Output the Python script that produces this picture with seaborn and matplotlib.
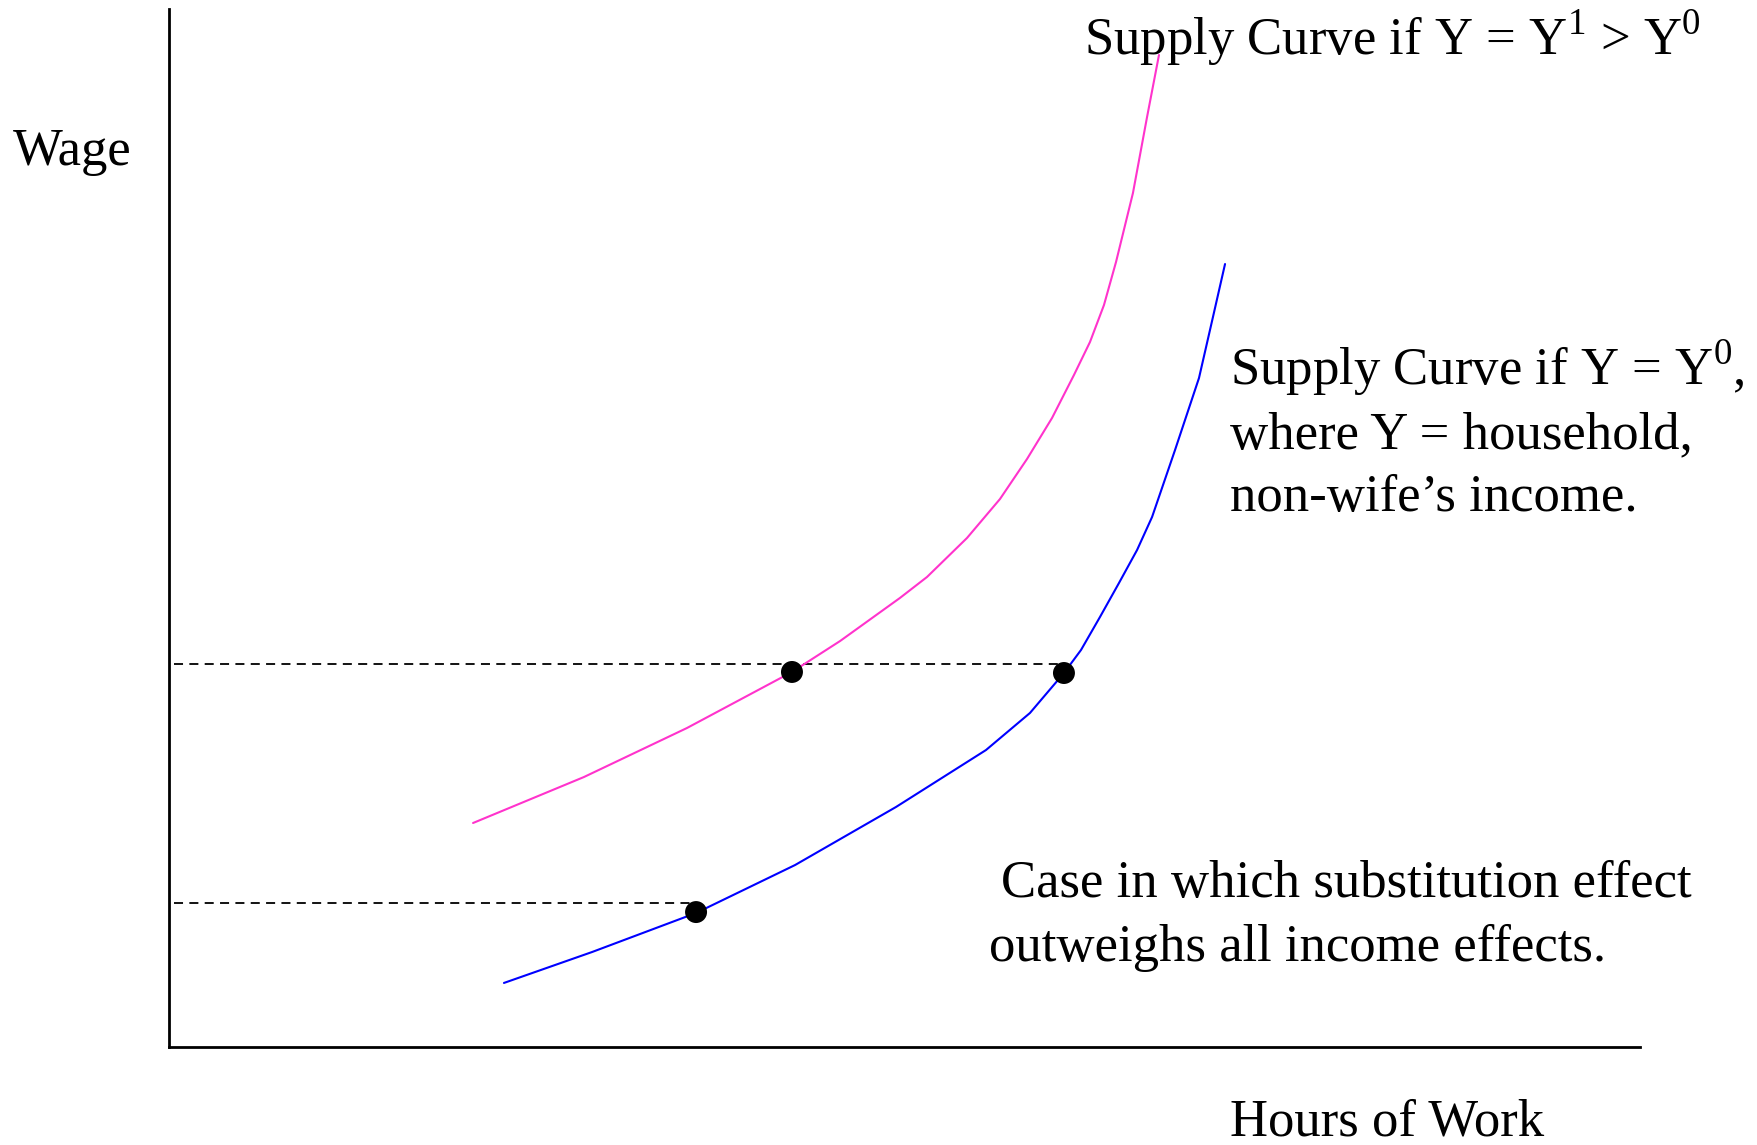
import pandas as pd
import seaborn as sns
import matplotlib.pyplot as plt

# curve points (hours, wage on a 0-100 scale)
pink_hours = [20.67, 28.21, 35.21, 42.35, 45.62, 49.69, 51.53, 54.25, 56.49, 58.33,
              60.03, 61.52, 62.61, 63.56, 64.38, 65.53, 66.49, 67.30]
pink_wage = [21.58, 26.01, 30.73, 36.13, 39.11, 43.26, 45.28, 49.04, 52.79, 56.65,
             60.60, 64.74, 67.92, 71.48, 75.63, 82.27, 89.60, 95.57]

blue_hours = [22.77, 28.76, 35.83, 42.56, 49.42, 55.54, 58.53, 60.84, 62.00, 63.29,
              64.58, 65.81, 66.83, 68.39, 70.02, 70.97, 71.79]
blue_wage = [6.17, 9.15, 12.91, 17.53, 23.12, 28.61, 32.18, 36.03, 38.25, 41.43,
             44.70, 47.88, 51.06, 57.51, 64.45, 70.33, 75.43]

dot_hours = [42.35, 60.84, 35.83]
dot_wage = [36.13, 36.03, 13.0]

guide_start = 0.34
guide_ends = [60.6, 35.4]
guide_wage = [36.9, 13.87]

PINK = '#ff33cc'
BLUE = '#0000ff'

sns.set_style('white')
plt.rcParams['font.family'] = ['Liberation Serif', 'DejaVu Serif']
plt.rcParams['mathtext.fontset'] = 'custom'
plt.rcParams['mathtext.rm'] = 'Liberation Serif'
plt.rcParams['text.color'] = 'black'

W, H = 1758, 1145
fig = plt.figure(figsize=(W / 100, H / 100), dpi=100)
ax = fig.add_axes([169 / W, 1 - 1047 / H, (1640 - 169) / W, (1047 - 9) / H])

pink = pd.DataFrame({'hours': pink_hours, 'wage': pink_wage})
blue = pd.DataFrame({'hours': blue_hours, 'wage': blue_wage})
dots = pd.DataFrame({'hours': dot_hours, 'wage': dot_wage})

for end, w in zip(guide_ends, guide_wage):
    ax.plot([guide_start, end], [w, w], color='black', lw=1.3,
            linestyle=(0, (5, 3.5)))

sns.lineplot(data=pink, x='hours', y='wage', sort=False, estimator=None,
             color=PINK, lw=1.5, ax=ax)
sns.lineplot(data=blue, x='hours', y='wage', sort=False, estimator=None,
             color=BLUE, lw=1.5, ax=ax)
sns.scatterplot(data=dots, x='hours', y='wage', color='black', s=250,
                edgecolor='none', zorder=5, ax=ax)

ax.set_xlim(0, 100)
ax.set_ylim(0, 100)
ax.set_xticks([])
ax.set_yticks([])
ax.set_xlabel('')
ax.set_ylabel('')
sns.despine(ax=ax)
for side in ['left', 'bottom']:
    ax.spines[side].set_linewidth(2.0)
    ax.spines[side].set_color('black')

FS = 38


def put(x, y, s):
    fig.text(x / W, 1 - y / H, s, fontsize=FS, ha='left', va='baseline',
             color='black')


put(1084, 54, r'Supply Curve if Y = Y$^{1}$ > Y$^{0}$')
put(1230, 385, r'Supply Curve if Y = Y$^{0}$,')
put(1230, 448, 'where Y = household,')
put(1230, 511, 'non-wife\u2019s income.')
put(1001, 897, 'Case in which substitution effect')
put(989, 961, 'outweighs all income effects.')
put(13, 165, 'Wage')
put(1230, 1135, 'Hours of Work')

fig.savefig('out.png', dpi=100)
